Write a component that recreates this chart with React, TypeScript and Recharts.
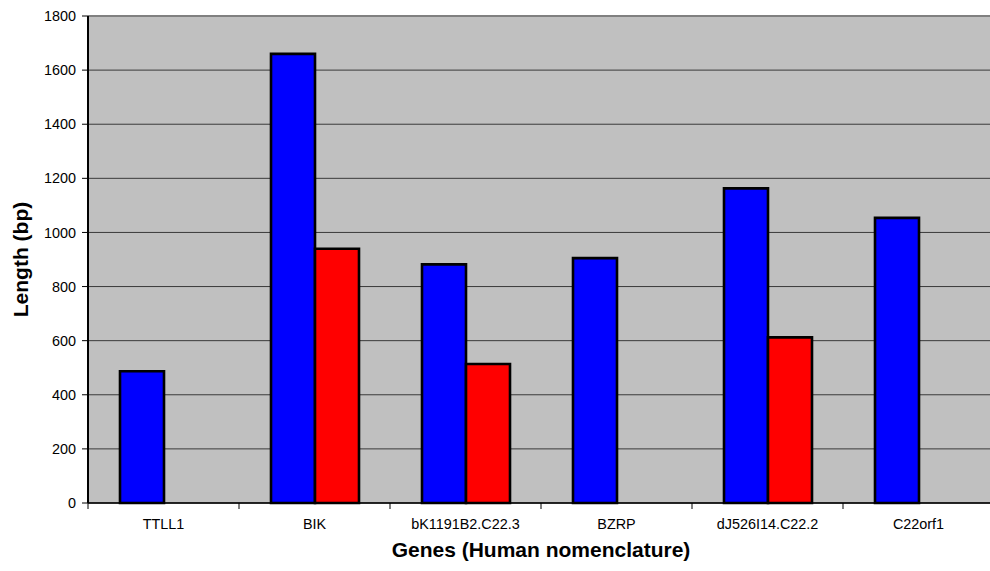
import { BarChart, Bar, XAxis, YAxis, CartesianGrid, ReferenceLine } from 'recharts';

const genes = ['TTLL1', 'BIK', 'bK1191B2.C22.3', 'BZRP', 'dJ526I14.C22.2', 'C22orf1'];
const firstLengths = [487, 1660, 882, 905, 1163, 1054];
const secondLengths: (number | null)[] = [null, 940, 514, null, 612, null];
const yTicks = [0, 200, 400, 600, 800, 1000, 1200, 1400, 1600, 1800];

const data = genes.map((gene, i) => ({
  gene,
  first: firstLengths[i],
  second: secondLengths[i],
}));

const FONT = '"Liberation Sans", Arial, sans-serif';
const CHART_W = 1000;
const CHART_H = 571;
const Y_AXIS_W = 88;
const X_AXIS_H = 68;
const MARGIN = { top: 16, right: 6, bottom: 0, left: 0 };
const PLOT_BOTTOM = CHART_H - X_AXIS_H;
const BAND = (CHART_W - Y_AXIS_W - MARGIN.right) / genes.length;

// category axis: ticks sit on the band edges, labels in the middle
const GeneTick = (props: any) => {
  const { x, payload } = props;
  const left = x - BAND / 2;
  return (
    <g>
      <line x1={left} y1={PLOT_BOTTOM} x2={left} y2={PLOT_BOTTOM + 6} stroke="#000" strokeWidth={1} />
      <text x={x} y={PLOT_BOTTOM + 26} textAnchor="middle" fontSize={14.4} fontFamily={FONT} fill="#000">
        {payload.value}
      </text>
    </g>
  );
};

export default function App() {
  return (
    <div style={{ position: 'fixed', left: 0, top: 0, width: 990, height: 571, overflow: 'hidden', background: '#fff' }}>
      <BarChart width={CHART_W} height={CHART_H} data={data} margin={MARGIN} barGap={0} barSize={44}>
        <CartesianGrid vertical={false} fill="#C0C0C0" stroke="#3a3a3a" strokeWidth={1} />
        <ReferenceLine y={1800} stroke="#808080" strokeWidth={2} />
        <XAxis
          dataKey="gene"
          height={X_AXIS_H}
          tickLine={false}
          axisLine={{ stroke: '#000', strokeWidth: 1.5 }}
          tick={<GeneTick />}
          interval={0}
          label={{
            content: (p: any) => (
              <text
                x={p.viewBox.x + p.viewBox.width / 2}
                y={557}
                textAnchor="middle"
                fontSize={21}
                fontWeight="bold"
                fontFamily={FONT}
                fill="#000"
              >
                Genes (Human nomenclature)
              </text>
            ),
          }}
        />
        <YAxis
          width={Y_AXIS_W}
          domain={[0, 1800]}
          ticks={yTicks}
          interval={0}
          tickSize={6}
          tickMargin={6}
          tickLine={{ stroke: '#000' }}
          axisLine={{ stroke: '#000', strokeWidth: 2 }}
          tick={{ fontSize: 14.4, fontFamily: FONT, fill: '#000' }}
          label={{
            content: () => (
              <text
                x={28}
                y={259.5}
                transform="rotate(-90 28 259.5)"
                textAnchor="middle"
                fontSize={21}
                fontWeight="bold"
                fontFamily={FONT}
                fill="#000"
              >
                Length (bp)
              </text>
            ),
          }}
        />
        <Bar dataKey="first" fill="#0000FF" stroke="#000" strokeWidth={2.6} isAnimationActive={false} />
        <Bar dataKey="second" fill="#FF0000" stroke="#000" strokeWidth={2.6} isAnimationActive={false} />
      </BarChart>
    </div>
  );
}
